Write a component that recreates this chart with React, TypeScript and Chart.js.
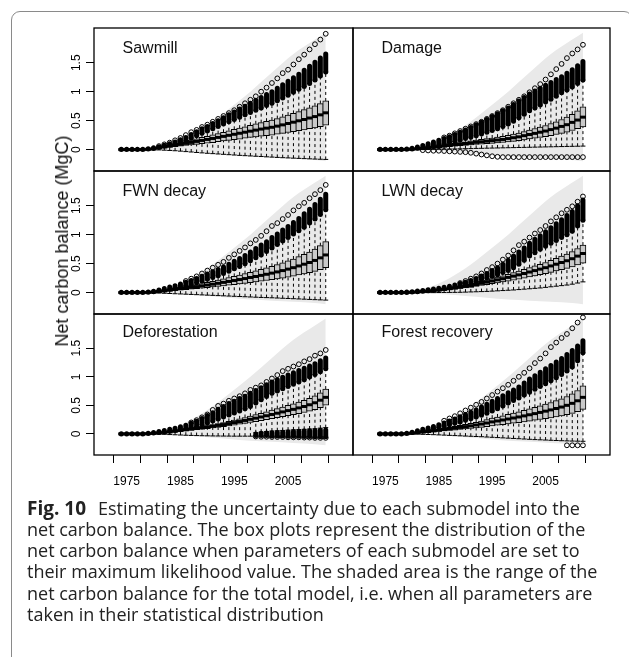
import React, { useEffect, useRef } from "react";
import { Chart, registerables } from "chart.js";

Chart.register(...registerables);

// ---------------- data ----------------
const YEARS = [1974,1975,1976,1977,1978,1979,1980,1981,1982,1983,1984,1985,1986,1987,1988,1989,1990,1991,1992,1993,1994,1995,1996,1997,1998,1999,2000,2001,2002,2003,2004,2005,2006,2007,2008,2009,2010,2011,2012];
const X_TICKS = [1975,1980,1985,1990,1995,2000,2005,2010];
const X_LABELS = [1975,1985,1995,2005];
const Y_TICKS = [0,0.5,1,1.5];

// total-model range (shaded area), same in every panel
const SHADE_YEARS = [1974,1978,1982,1986,1990,1994,1998,2002,2006,2010,2012];
const SHADE_HI = [0,0.005,0.06,0.2,0.42,0.7,1.0,1.33,1.65,1.9,2.02];
const SHADE_LO = [0,0,-0.01,-0.03,-0.06,-0.09,-0.12,-0.14,-0.16,-0.18,-0.2];

// Sawmill
const SAW_Q1 = [0,0,0,0,0,0.003,0.01,0.02,0.03,0.04,0.05,0.06,0.07,0.08,0.09,0.1,0.11,0.12,0.135,0.15,0.16,0.17,0.18,0.195,0.21,0.22,0.23,0.24,0.25,0.265,0.28,0.295,0.31,0.325,0.34,0.36,0.375,0.395,0.42];
const SAW_MED = [0,0,0,0,0,0.005,0.015,0.03,0.045,0.06,0.075,0.09,0.107,0.124,0.141,0.158,0.175,0.192,0.21,0.228,0.246,0.264,0.282,0.3,0.318,0.336,0.354,0.37,0.385,0.405,0.427,0.45,0.473,0.497,0.52,0.545,0.57,0.6,0.635];
const SAW_Q3 = [0,0,0,0,0,0.007,0.02,0.04,0.06,0.08,0.1,0.12,0.14,0.165,0.185,0.21,0.23,0.255,0.275,0.3,0.325,0.35,0.37,0.395,0.42,0.445,0.465,0.49,0.51,0.535,0.565,0.595,0.625,0.655,0.69,0.72,0.755,0.795,0.84];
const SAW_WLO = [0,0,0,0,0,0,-0.003,-0.006,-0.01,-0.015,-0.02,-0.027,-0.035,-0.042,-0.05,-0.057,-0.064,-0.07,-0.076,-0.082,-0.088,-0.094,-0.1,-0.105,-0.11,-0.115,-0.12,-0.125,-0.13,-0.135,-0.14,-0.144,-0.148,-0.152,-0.156,-0.16,-0.164,-0.167,-0.17];
const SAW_WHI = [0,0,0,0,0,0.008,0.02,0.04,0.06,0.08,0.1,0.13,0.16,0.2,0.24,0.28,0.32,0.36,0.4,0.44,0.48,0.52,0.56,0.6,0.64,0.68,0.72,0.76,0.8,0.845,0.89,0.94,0.99,1.04,1.09,1.14,1.2,1.27,1.34];
const SAW_BTOP = [0.004,0.004,0.004,0.004,0.006,0.015,0.03,0.05,0.075,0.1,0.13,0.17,0.21,0.26,0.31,0.36,0.4,0.45,0.5,0.55,0.6,0.65,0.7,0.75,0.8,0.85,0.9,0.95,1.0,1.06,1.12,1.18,1.24,1.3,1.37,1.44,1.51,1.58,1.65];
const SAW_OMAX = [null,null,null,null,null,null,null,0.06,0.09,0.12,0.16,0.2,0.25,0.3,0.34,0.39,0.43,0.48,0.53,0.58,0.63,0.68,0.74,0.8,0.86,0.92,1.0,1.07,1.15,1.23,1.32,1.38,1.47,1.56,1.64,1.73,1.82,1.9,2.0];

// Damage
const DAM_Q1 = [0,0,0,0,0,0.002,0.005,0.01,0.014,0.02,0.027,0.034,0.043,0.052,0.059,0.066,0.073,0.08,0.087,0.094,0.1,0.108,0.115,0.122,0.132,0.143,0.154,0.168,0.182,0.196,0.21,0.224,0.24,0.26,0.28,0.3,0.33,0.36,0.39];
const DAM_MED = [0,0,0,0,0,0.003,0.008,0.014,0.02,0.03,0.04,0.05,0.062,0.075,0.085,0.095,0.105,0.115,0.125,0.135,0.145,0.155,0.165,0.175,0.19,0.205,0.22,0.24,0.26,0.28,0.3,0.32,0.345,0.37,0.4,0.43,0.47,0.51,0.56];
const DAM_Q3 = [0,0,0,0,0,0.004,0.011,0.018,0.026,0.039,0.052,0.065,0.08,0.097,0.11,0.123,0.136,0.15,0.163,0.175,0.19,0.2,0.215,0.23,0.247,0.266,0.286,0.31,0.338,0.364,0.39,0.416,0.45,0.48,0.52,0.56,0.61,0.67,0.74];
const DAM_WLO = [0,0,0,0,0,0,0,0,0,0.002,0.004,0.005,0.007,0.009,0.011,0.013,0.015,0.017,0.02,0.022,0.024,0.026,0.028,0.03,0.032,0.034,0.036,0.038,0.04,0.042,0.044,0.046,0.048,0.05,0.052,0.054,0.056,0.058,0.06];
const DAM_WHI = [0,0,0,0,0,0.005,0.012,0.022,0.035,0.05,0.065,0.08,0.1,0.12,0.14,0.165,0.19,0.215,0.24,0.27,0.3,0.33,0.36,0.4,0.44,0.49,0.55,0.61,0.67,0.72,0.77,0.82,0.87,0.92,0.98,1.03,1.08,1.14,1.2];
const DAM_BTOP = [0.004,0.004,0.004,0.004,0.004,0.01,0.025,0.045,0.07,0.1,0.13,0.16,0.19,0.22,0.26,0.3,0.34,0.38,0.43,0.47,0.52,0.57,0.62,0.67,0.72,0.78,0.84,0.9,0.96,1.01,1.06,1.11,1.16,1.21,1.26,1.32,1.38,1.45,1.52];
const DAM_OMAX = [null,null,null,null,null,null,null,null,null,null,null,null,0.21,0.24,0.28,0.32,0.36,0.4,0.44,0.48,0.53,0.58,0.63,0.68,0.74,0.8,0.86,0.92,0.99,1.06,1.13,1.21,1.3,1.39,1.48,1.58,1.66,1.73,1.81];
const DAM_LOWC = [null,null,null,null,null,null,null,null,-0.01,-0.015,-0.02,-0.02,-0.025,-0.03,-0.035,-0.04,-0.045,-0.055,-0.07,-0.085,-0.1,-0.115,-0.125,-0.13,-0.13,-0.13,-0.13,-0.13,-0.13,-0.13,-0.13,-0.13,-0.13,-0.13,-0.13,-0.13,-0.13,-0.13,-0.13];

// FWN decay
const FWN_Q1 = [0,0,0,0,0,0.003,0.007,0.013,0.02,0.028,0.036,0.044,0.052,0.06,0.068,0.077,0.086,0.096,0.106,0.116,0.127,0.137,0.148,0.16,0.172,0.183,0.196,0.209,0.222,0.236,0.25,0.267,0.284,0.303,0.323,0.343,0.366,0.395,0.43];
const FWN_MED = [0,0,0,0,0,0.004,0.01,0.02,0.03,0.042,0.054,0.066,0.078,0.09,0.103,0.116,0.13,0.145,0.16,0.176,0.192,0.208,0.225,0.242,0.26,0.278,0.297,0.316,0.336,0.357,0.38,0.405,0.43,0.46,0.49,0.52,0.555,0.6,0.65];
const FWN_Q3 = [0,0,0,0,0,0.005,0.013,0.027,0.04,0.057,0.073,0.089,0.105,0.122,0.139,0.157,0.176,0.196,0.216,0.238,0.26,0.28,0.304,0.327,0.351,0.375,0.4,0.427,0.454,0.482,0.513,0.547,0.58,0.62,0.66,0.7,0.75,0.81,0.88];
const FWN_WLO = [0,0,0,0,0,-0.002,-0.005,-0.008,-0.012,-0.016,-0.02,-0.024,-0.028,-0.032,-0.036,-0.04,-0.044,-0.048,-0.052,-0.056,-0.06,-0.064,-0.068,-0.072,-0.076,-0.08,-0.084,-0.087,-0.09,-0.094,-0.098,-0.102,-0.106,-0.11,-0.114,-0.118,-0.122,-0.126,-0.13];
const FWN_WHI = [0,0,0,0,0,0.006,0.016,0.03,0.045,0.06,0.08,0.1,0.12,0.145,0.17,0.2,0.23,0.26,0.29,0.33,0.37,0.41,0.45,0.5,0.55,0.6,0.65,0.71,0.77,0.83,0.89,0.95,1.01,1.07,1.13,1.2,1.27,1.35,1.43];
const FWN_BTOP = [0.004,0.004,0.004,0.004,0.004,0.012,0.025,0.045,0.07,0.095,0.12,0.15,0.18,0.21,0.245,0.28,0.32,0.36,0.4,0.44,0.49,0.54,0.59,0.64,0.7,0.76,0.82,0.88,0.95,1.01,1.08,1.14,1.21,1.28,1.36,1.44,1.52,1.61,1.7];
const FWN_OMAX = [null,null,null,null,null,null,null,null,null,null,null,null,0.2,0.24,0.28,0.33,0.38,0.43,0.48,0.53,0.6,0.66,0.72,0.78,0.85,0.91,0.98,1.06,1.15,1.2,1.27,1.34,1.42,1.49,1.55,1.63,1.7,1.77,1.86];

// LWN decay
const LWN_Q1 = [0,0,0,0,0,0.0015,0.0045,0.009,0.014,0.019,0.026,0.033,0.042,0.051,0.06,0.07,0.08,0.091,0.106,0.122,0.137,0.152,0.167,0.182,0.199,0.216,0.233,0.25,0.27,0.289,0.308,0.327,0.35,0.372,0.395,0.418,0.445,0.478,0.51];
const LWN_MED = [0,0,0,0,0,0.002,0.006,0.012,0.018,0.025,0.034,0.044,0.055,0.067,0.079,0.092,0.106,0.12,0.14,0.16,0.18,0.2,0.22,0.24,0.262,0.284,0.306,0.33,0.355,0.38,0.405,0.43,0.46,0.49,0.52,0.55,0.585,0.63,0.675];
const LWN_Q3 = [0,0,0,0,0,0.0025,0.007,0.015,0.022,0.03,0.041,0.053,0.067,0.081,0.096,0.111,0.128,0.145,0.169,0.194,0.218,0.242,0.266,0.29,0.317,0.344,0.37,0.4,0.43,0.46,0.49,0.52,0.557,0.593,0.63,0.665,0.708,0.762,0.82];
const LWN_WLO = [0,0,0,0,0,0,0,0,0,0,0,0.001,0.002,0.003,0.004,0.005,0.008,0.011,0.014,0.017,0.02,0.025,0.03,0.035,0.04,0.045,0.052,0.059,0.066,0.073,0.08,0.09,0.1,0.11,0.12,0.13,0.145,0.165,0.185];
const LWN_WHI = [0,0,0,0,0,0.003,0.008,0.016,0.024,0.033,0.044,0.056,0.07,0.085,0.1,0.12,0.14,0.165,0.19,0.22,0.25,0.28,0.31,0.345,0.38,0.43,0.49,0.56,0.63,0.69,0.75,0.8,0.85,0.9,0.95,1.0,1.06,1.15,1.25];
const LWN_BTOP = [0.004,0.004,0.004,0.004,0.004,0.008,0.016,0.026,0.036,0.048,0.06,0.075,0.09,0.11,0.13,0.155,0.18,0.21,0.245,0.285,0.33,0.38,0.43,0.49,0.56,0.63,0.7,0.77,0.85,0.92,0.98,1.05,1.12,1.19,1.26,1.33,1.4,1.5,1.6];
const LWN_OMAX = [null,null,null,null,null,null,null,null,null,null,null,null,null,null,null,0.165,0.2,0.24,0.28,0.33,0.39,0.44,0.5,0.57,0.64,0.73,0.82,0.88,0.95,1.02,1.08,1.15,1.23,1.3,1.37,1.43,1.49,1.57,1.66];

// Deforestation
const DEF_Q1 = [0,0,0,0,0,0.003,0.008,0.014,0.021,0.029,0.037,0.047,0.056,0.065,0.073,0.083,0.093,0.104,0.115,0.127,0.14,0.154,0.168,0.183,0.199,0.214,0.23,0.248,0.265,0.282,0.3,0.318,0.335,0.355,0.374,0.398,0.425,0.46,0.505];
const DEF_MED = [0,0,0,0,0,0.004,0.01,0.018,0.027,0.037,0.048,0.06,0.072,0.083,0.094,0.106,0.119,0.133,0.148,0.163,0.18,0.198,0.216,0.235,0.255,0.275,0.296,0.318,0.34,0.362,0.385,0.408,0.43,0.455,0.48,0.51,0.545,0.59,0.64];
const DEF_Q3 = [0,0,0,0,0,0.005,0.012,0.022,0.033,0.045,0.059,0.073,0.088,0.101,0.115,0.129,0.145,0.162,0.181,0.199,0.22,0.242,0.264,0.287,0.311,0.336,0.361,0.388,0.415,0.442,0.47,0.498,0.525,0.555,0.586,0.622,0.665,0.72,0.785];
const DEF_WLO = [0,0,0,0,0,0,-0.002,-0.005,-0.008,-0.012,-0.016,-0.02,-0.024,-0.027,-0.03,-0.032,-0.034,-0.036,-0.037,-0.038,-0.039,-0.04,-0.04,-0.04,-0.04,0.02,0.03,0.04,0.05,0.055,0.06,0.065,0.07,0.075,0.08,0.085,0.09,0.1,0.11];
const DEF_WHI = [0,0,0,0,0,0.006,0.015,0.025,0.036,0.048,0.06,0.075,0.09,0.11,0.13,0.16,0.19,0.225,0.26,0.295,0.33,0.365,0.4,0.44,0.48,0.54,0.6,0.655,0.71,0.75,0.79,0.83,0.87,0.91,0.95,0.995,1.04,1.09,1.14];
const DEF_BTOP = [0.004,0.004,0.004,0.004,0.004,0.012,0.025,0.04,0.06,0.08,0.1,0.125,0.15,0.185,0.22,0.27,0.32,0.37,0.43,0.48,0.53,0.57,0.62,0.66,0.71,0.76,0.81,0.86,0.91,0.95,0.99,1.03,1.07,1.11,1.15,1.19,1.23,1.28,1.33];
const DEF_OMAX = [null,null,null,null,null,null,null,null,null,null,null,null,null,0.2,0.24,0.29,0.34,0.42,0.49,0.53,0.58,0.62,0.66,0.71,0.77,0.81,0.85,0.91,0.97,1.03,1.1,1.14,1.18,1.22,1.27,1.31,1.37,1.41,1.47];
const DEF_LBTOP = [null,null,null,null,null,null,null,null,null,null,null,null,null,null,null,null,null,null,null,null,null,null,null,null,null,0.0,0.01,0.015,0.02,0.025,0.03,0.035,0.04,0.045,0.05,0.055,0.06,0.065,0.07];
const DEF_LBBOT = [null,null,null,null,null,null,null,null,null,null,null,null,null,null,null,null,null,null,null,null,null,null,null,null,null,-0.03,-0.03,-0.03,-0.035,-0.035,-0.035,-0.04,-0.04,-0.04,-0.045,-0.045,-0.05,-0.05,-0.05];
const DEF_LOWC = [null,null,null,null,null,null,null,null,null,null,null,null,null,null,null,null,null,null,null,null,null,null,null,null,null,-0.045,-0.05,-0.05,-0.055,-0.055,-0.055,-0.06,-0.06,-0.06,-0.065,-0.065,-0.07,-0.07,-0.07];

// Forest recovery
const FOR_Q1 = [0,0,0,0,0,0.003,0.008,0.015,0.021,0.028,0.035,0.043,0.051,0.059,0.067,0.076,0.085,0.094,0.104,0.115,0.127,0.14,0.151,0.163,0.174,0.186,0.198,0.211,0.224,0.238,0.252,0.267,0.281,0.298,0.315,0.335,0.358,0.39,0.43];
const FOR_MED = [0,0,0,0,0,0.004,0.012,0.022,0.032,0.042,0.053,0.064,0.076,0.088,0.1,0.113,0.127,0.141,0.156,0.172,0.19,0.21,0.226,0.243,0.26,0.278,0.296,0.315,0.335,0.355,0.376,0.398,0.42,0.445,0.47,0.5,0.535,0.58,0.64];
const FOR_Q3 = [0,0,0,0,0,0.005,0.016,0.029,0.042,0.055,0.069,0.084,0.1,0.115,0.131,0.148,0.166,0.185,0.204,0.225,0.249,0.275,0.296,0.318,0.341,0.364,0.388,0.413,0.439,0.465,0.493,0.521,0.55,0.583,0.616,0.655,0.7,0.76,0.84];
const FOR_WLO = [0,0,0,0,0,0,-0.002,-0.005,-0.008,-0.011,-0.014,-0.018,-0.022,-0.026,-0.03,-0.034,-0.038,-0.042,-0.046,-0.05,-0.055,-0.06,-0.065,-0.07,-0.075,-0.08,-0.085,-0.09,-0.095,-0.1,-0.104,-0.108,-0.112,-0.116,-0.12,-0.123,-0.126,-0.128,-0.13];
const FOR_WHI = [0,0,0,0,0,0.008,0.022,0.04,0.058,0.076,0.095,0.115,0.137,0.16,0.185,0.21,0.237,0.265,0.295,0.327,0.362,0.4,0.44,0.49,0.54,0.585,0.63,0.68,0.73,0.78,0.83,0.88,0.93,0.985,1.04,1.1,1.17,1.28,1.42];
const FOR_BTOP = [0.004,0.004,0.004,0.004,0.004,0.012,0.03,0.055,0.08,0.105,0.13,0.16,0.19,0.225,0.26,0.3,0.34,0.38,0.42,0.47,0.52,0.57,0.62,0.67,0.72,0.77,0.82,0.89,0.96,1.02,1.08,1.14,1.2,1.26,1.32,1.39,1.46,1.54,1.63];
const FOR_OMAX = [null,null,null,null,null,null,null,null,null,null,null,null,0.23,0.27,0.31,0.36,0.41,0.46,0.51,0.56,0.62,0.68,0.74,0.8,0.86,0.93,1.0,1.07,1.15,1.24,1.32,1.41,1.52,1.6,1.68,1.75,1.85,1.95,2.04];
const FOR_LOWC = [null,null,null,null,null,null,null,null,null,null,null,null,null,null,null,null,null,null,null,null,null,null,null,null,null,null,null,null,null,null,null,null,null,null,null,-0.2,-0.2,-0.2,-0.2];

const PANELS: any[] = [
  { title: "Sawmill", col: 0, row: 0, q1: SAW_Q1, med: SAW_MED, q3: SAW_Q3, wlo: SAW_WLO, whi: SAW_WHI, btop: SAW_BTOP, omax: SAW_OMAX },
  { title: "Damage", col: 1, row: 0, q1: DAM_Q1, med: DAM_MED, q3: DAM_Q3, wlo: DAM_WLO, whi: DAM_WHI, btop: DAM_BTOP, omax: DAM_OMAX, lowc: DAM_LOWC },
  { title: "FWN decay", col: 0, row: 1, q1: FWN_Q1, med: FWN_MED, q3: FWN_Q3, wlo: FWN_WLO, whi: FWN_WHI, btop: FWN_BTOP, omax: FWN_OMAX },
  { title: "LWN decay", col: 1, row: 1, q1: LWN_Q1, med: LWN_MED, q3: LWN_Q3, wlo: LWN_WLO, whi: LWN_WHI, btop: LWN_BTOP, omax: LWN_OMAX },
  { title: "Deforestation", col: 0, row: 2, q1: DEF_Q1, med: DEF_MED, q3: DEF_Q3, wlo: DEF_WLO, whi: DEF_WHI, btop: DEF_BTOP, omax: DEF_OMAX, lbtop: DEF_LBTOP, lbbot: DEF_LBBOT, lowc: DEF_LOWC },
  { title: "Forest recovery", col: 1, row: 2, q1: FOR_Q1, med: FOR_MED, q3: FOR_Q3, wlo: FOR_WLO, whi: FOR_WHI, btop: FOR_BTOP, omax: FOR_OMAX, lowc: FOR_LOWC },
];

// ---------------- layout (styles) ----------------
const COL_L = [94, 353];
const COL_R = [353, 610];
const ROW_T = [28, 171, 314];
const ROW_B = [171, 314, 455];
const TITLE_BASE = [53.5, 196.5, 337];
const Y_AXIS_W = 64;
const X_AXIS_H = 45;
const PAD = 5;
const FONT = "'Liberation Sans', Arial, Helvetica, sans-serif";

function segs(lo: any[], hi: any[]) {
  const out: any[] = [];
  YEARS.forEach((x, i) => {
    if (lo[i] == null || hi[i] == null) return;
    out.push({ x, y: lo[i] }, { x, y: hi[i] }, { x, y: null });
  });
  return out;
}
function pts(vals: any[]) {
  const out: any[] = [];
  YEARS.forEach((x, i) => {
    if (vals[i] != null) out.push({ x, y: vals[i] });
  });
  return out;
}

const boxPlugin = {
  id: "panelBox",
  afterDraw(chart: any) {
    const { ctx, chartArea: a } = chart;
    ctx.save();
    ctx.strokeStyle = "#000";
    ctx.lineWidth = 1.3;
    ctx.strokeRect(a.left, a.top, a.right - a.left, a.bottom - a.top);
    ctx.restore();
  },
};

function geometry(p: any) {
  const isLeft = p.col === 0;
  const isBottom = p.row === 2;
  const left = isLeft ? COL_L[0] - Y_AXIS_W : COL_L[1] - PAD;
  const right = COL_R[p.col] + PAD;
  const top = ROW_T[p.row] - PAD;
  const bottom = ROW_B[p.row] + (isBottom ? X_AXIS_H : PAD);
  return { isLeft, isBottom, left, top, width: right - left, height: bottom - top };
}

function buildConfig(p: any, g: any) {
  const datasets: any[] = [
    {
      type: "line",
      data: SHADE_YEARS.map((x, i) => ({ x, y: SHADE_HI[i] })),
      borderColor: "rgba(0,0,0,0)",
      borderWidth: 0,
      pointRadius: 0,
      fill: "+1",
      backgroundColor: "#e9e9e9",
      cubicInterpolationMode: "monotone",
      order: 100,
    },
    {
      type: "line",
      data: SHADE_YEARS.map((x, i) => ({ x, y: SHADE_LO[i] })),
      borderColor: "rgba(0,0,0,0)",
      borderWidth: 0,
      pointRadius: 0,
      fill: false,
      cubicInterpolationMode: "monotone",
      order: 99,
    },
    {
      type: "line",
      data: segs(p.q3, p.whi),
      borderColor: "#000",
      borderWidth: 1,
      borderDash: [3, 3],
      pointRadius: 0,
      fill: false,
      spanGaps: false,
      order: 60,
    },
    {
      type: "line",
      data: segs(p.wlo, p.q1),
      borderColor: "#000",
      borderWidth: 1,
      borderDash: [3, 3],
      pointRadius: 0,
      fill: false,
      spanGaps: false,
      order: 59,
    },
    {
      type: "scatter",
      data: pts(p.wlo).concat(pts(p.whi)),
      pointStyle: "line",
      pointRadius: 2.5,
      pointBorderWidth: 1,
      pointBorderColor: "#000",
      pointBackgroundColor: "#000",
      order: 58,
    },
    {
      type: "bar",
      data: YEARS.map((x, i) => ({ x, y: [p.q1[i], p.q3[i]] })),
      backgroundColor: "#c9c9c9",
      borderColor: "#000",
      borderWidth: 1,
      borderSkipped: false,
      barThickness: 6,
      order: 50,
    },
    {
      type: "scatter",
      data: pts(p.med),
      pointStyle: "line",
      pointRadius: 3,
      pointBorderWidth: 3,
      pointBorderColor: "#000",
      pointBackgroundColor: "#000",
      order: 45,
    },
    {
      type: "line",
      data: segs(p.whi, p.btop),
      borderColor: "#000",
      borderWidth: 5,
      borderCapStyle: "round",
      pointRadius: 0,
      fill: false,
      spanGaps: false,
      order: 30,
    },
    {
      type: "scatter",
      data: pts(p.omax),
      pointStyle: "circle",
      pointRadius: 2.4,
      pointBorderWidth: 1,
      pointBorderColor: "#000",
      pointBackgroundColor: "rgba(0,0,0,0)",
      order: 20,
    },
  ];
  if (p.lbtop) {
    datasets.push({
      type: "line",
      data: segs(p.lbbot, p.lbtop),
      borderColor: "#000",
      borderWidth: 5,
      borderCapStyle: "round",
      pointRadius: 0,
      fill: false,
      spanGaps: false,
      order: 29,
    });
  }
  if (p.lowc) {
    datasets.push({
      type: "scatter",
      data: pts(p.lowc),
      pointStyle: "circle",
      pointRadius: 2.4,
      pointBorderWidth: 1,
      pointBorderColor: "#000",
      pointBackgroundColor: "rgba(0,0,0,0)",
      order: 19,
    });
  }

  return {
    type: "line",
    data: { datasets },
    plugins: [boxPlugin],
    options: {
      animation: false,
      responsive: false,
      devicePixelRatio: 1,
      events: [],
      layout: {
        autoPadding: false,
        padding: {
          left: g.isLeft ? 0 : PAD,
          right: PAD,
          top: PAD,
          bottom: g.isBottom ? 0 : PAD,
        },
      },
      plugins: { legend: { display: false }, tooltip: { enabled: false } },
      scales: {
        x: {
          type: "linear",
          min: 1971.94,
          max: 2014.06,
          display: g.isBottom,
          position: "bottom",
          afterBuildTicks: (s: any) => {
            s.ticks = X_TICKS.map((v) => ({ value: v }));
          },
          afterFit: (s: any) => {
            if (g.isBottom) s.height = X_AXIS_H;
            s.paddingLeft = 0;
            s.paddingRight = 0;
            s.paddingTop = 0;
            s.paddingBottom = 0;
          },
          ticks: {
            autoSkip: false,
            maxRotation: 0,
            minRotation: 0,
            padding: 11,
            color: "#000",
            font: { family: FONT, size: 12 },
            callback: (v: any) => (X_LABELS.includes(v) ? String(v) : ""),
          },
          grid: {
            drawOnChartArea: false,
            drawTicks: true,
            tickLength: 8,
            color: "#000",
            tickColor: "#000",
            tickWidth: 1,
          },
          border: { display: false },
        },
        y: {
          type: "linear",
          min: -0.37,
          max: 2.1,
          display: g.isLeft,
          position: "left",
          afterBuildTicks: (s: any) => {
            s.ticks = Y_TICKS.map((v) => ({ value: v }));
          },
          afterFit: (s: any) => {
            if (g.isLeft) s.width = Y_AXIS_W;
            s.paddingLeft = 0;
            s.paddingRight = 0;
            s.paddingTop = 0;
            s.paddingBottom = 0;
          },
          ticks: {
            minRotation: 90,
            maxRotation: 90,
            crossAlign: "center",
            padding: 1,
            color: "#000",
            font: { family: FONT, size: 12 },
            callback: (v: any) => String(v),
          },
          grid: {
            drawOnChartArea: false,
            drawTicks: true,
            tickLength: 8,
            color: "#000",
            tickColor: "#000",
            tickWidth: 1,
          },
          border: { display: false },
        },
      },
    },
  };
}

function Panel({ p }: { p: any }) {
  const ref = useRef<HTMLCanvasElement>(null);
  const g = geometry(p);
  useEffect(() => {
    if (!ref.current) return;
    const chart = new Chart(ref.current, buildConfig(p, g) as any);
    return () => chart.destroy();
  }, []);
  return (
    <canvas
      ref={ref}
      width={g.width}
      height={g.height}
      style={{ position: "absolute", left: g.left, top: g.top, width: g.width, height: g.height }}
    />
  );
}

const CAPTION_LINES = [
  "net carbon balance. The box plots represent the distribution of the",
  "net carbon balance when parameters of each submodel are set to",
  "their maximum likelihood value. The shaded area is the range of the",
  "net carbon balance for the total model, i.e. when all parameters are",
  "taken in their statistical distribution",
];

export default function App() {
  const capFont = "'Open Sans', 'Noto Sans', sans-serif";
  const capTop = 497.5;
  const capLH = 21.33;
  return (
    <div
      style={{
        position: "absolute",
        left: 0,
        top: 0,
        width: 629,
        height: 657,
        background: "#fff",
        overflow: "hidden",
      }}
    >
      <div
        style={{
          position: "absolute",
          left: 11,
          top: 11,
          width: 622,
          height: 660,
          border: "1.5px solid #8a8a8a",
          borderRadius: 9,
          boxSizing: "border-box",
        }}
      />
      {PANELS.map((p) => (
        <Panel key={p.title} p={p} />
      ))}
      {PANELS.map((p) => (
        <div
          key={"t" + p.title}
          style={{
            position: "absolute",
            left: COL_L[p.col] + 28.5,
            top: TITLE_BASE[p.row] - 13.5,
            fontFamily: FONT,
            fontSize: 16,
            lineHeight: "16px",
            whiteSpace: "nowrap",
            color: "#111",
          }}
        >
          {p.title}
        </div>
      ))}
      <div
        style={{
          position: "absolute",
          left: 62,
          top: 241,
          transform: "translate(-50%, -50%) rotate(-90deg)",
          fontFamily: FONT,
          fontSize: 18,
          lineHeight: "18px",
          whiteSpace: "nowrap",
          color: "#111",
        }}
      >
        Net carbon balance (MgC)
      </div>
      <div
        style={{
          position: "absolute",
          left: 27,
          top: capTop,
          fontFamily: capFont,
          fontSize: 18,
          lineHeight: capLH + "px",
          color: "#222",
          whiteSpace: "nowrap",
        }}
      >
        <div>
          <span style={{ fontWeight: 700, fontSize: 19 }}>Fig. 10</span>
          {"\u2002\u2009Estimating the uncertainty due to each submodel into the"}
        </div>
        {CAPTION_LINES.map((l) => (
          <div key={l}>{l}</div>
        ))}
      </div>
    </div>
  );
}
